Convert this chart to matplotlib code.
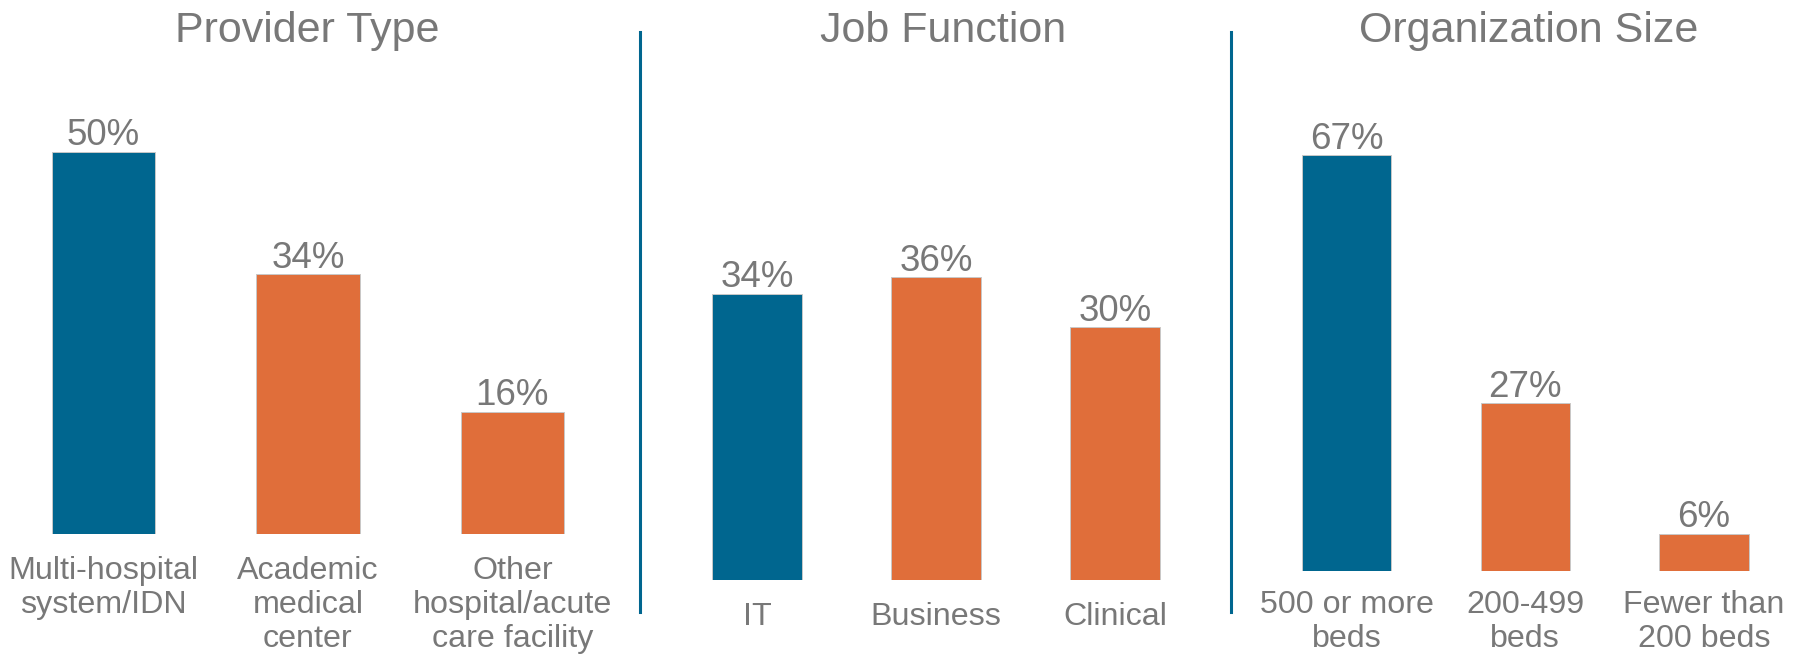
import matplotlib.pyplot as plt
from matplotlib.lines import Line2D

plt.rcParams['font.family'] = ['Liberation Sans', 'DejaVu Sans']

# data
titles = ["Provider Type", "Job Function", "Organization Size"]
provider_labels = ["Multi-hospital\nsystem/IDN", "Academic\nmedical\ncenter", "Other\nhospital/acute\ncare facility"]
provider_values = [50, 34, 16]
job_labels = ["IT", "Business", "Clinical"]
job_values = [34, 36, 30]
size_labels = ["500 or more\nbeds", "200-499\nbeds", "Fewer than\n200 beds"]
size_values = [67, 27, 6]

BLUE = "#00668F"
ORANGE = "#E06E3A"
GREY = "#787878"
W, H = 1802, 657

fig = plt.figure(figsize=(W / 100, H / 100), dpi=100)

# layout per panel (pixels): first bar center, bar spacing, bar width, baseline y,
# px per percent, title center x, label offset (pt)
panels = [
    (titles[0], provider_labels, provider_values, 103.4, 204.5, 103.4, 534, 7.65, 307, -16),
    (titles[1], job_labels, job_values, 757.2, 179.0, 89.6, 580, 8.42, 943, -15.5),
    (titles[2], size_labels, size_values, 1346.6, 178.7, 89.6, 571, 6.205, 1529, -13.5),
]

for title, labels, values, c0, sp, bw, base, ppp, tx, loff in panels:
    ymax = 70
    left = c0 - sp / 2
    ax = fig.add_axes([left / W, (H - base) / H, 3 * sp / W, ymax * ppp / H])
    ax.set_xlim(-0.5, 2.5)
    ax.set_ylim(0, ymax)
    colors = [BLUE] + [ORANGE] * (len(values) - 1)
    x = range(len(values))
    ax.bar(x, values, width=bw / sp, color=colors, edgecolor="#C8C8C8", linewidth=0.7)
    for i, v in zip(x, values):
        ax.annotate(f"{v}%", (i, v), xytext=(0, -1.2), textcoords="offset points",
                    ha="center", va="bottom", fontsize=26.5, color=GREY)
        ax.annotate(labels[i], (i, 0), xytext=(0, loff), textcoords="offset points",
                    ha="center", va="top", fontsize=23.2, color=GREY,
                    linespacing=1.17, annotation_clip=False)
    ax.axis("off")
    fig.text(tx / W, 1 - 42 / H, title, ha="center", va="baseline", fontsize=31, color=GREY)

# vertical dividers
for xd in [640, 1230.6]:
    fig.add_artist(Line2D([xd / W, xd / W], [1 - 32 / H, 1 - 612 / H],
                          color="#00668F", linewidth=2.2))

fig.savefig("out.png", dpi=100)
